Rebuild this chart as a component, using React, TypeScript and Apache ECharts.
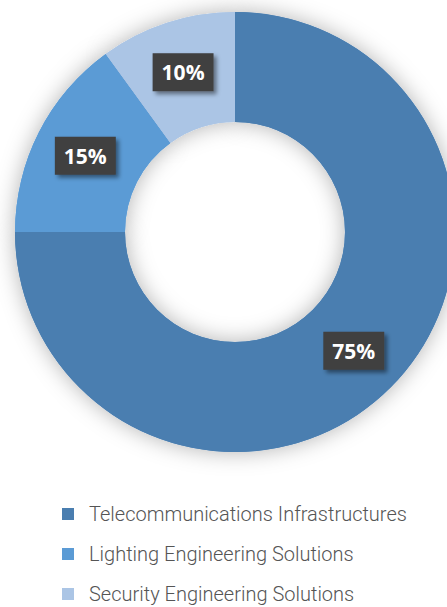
import React, { useEffect, useRef } from "react";
import * as echarts from "echarts";

const categories = [
  "Telecommunications Infrastructures",
  "Lighting Engineering Solutions",
  "Security Engineering Solutions",
];
const shares = [75, 15, 10];
const colors = ["#4A7EB0", "#5B9BD5", "#ABC5E5"];

export default function App() {
  const ref = useRef<HTMLDivElement>(null);
  useEffect(() => {
    if (!ref.current) return;
    const chart = echarts.init(ref.current, null, { renderer: "svg" });
    const data = categories.map((name, i) => ({
      name,
      value: shares[i],
      itemStyle: { color: colors[i] },
    }));
    chart.setOption({
      animation: false,
      backgroundColor: "#ffffff",
      legend: {
        orient: "vertical",
        left: 62,
        top: 504,
        padding: 0,
        itemWidth: 12,
        itemHeight: 12,
        itemGap: 20,
        icon: "rect",
        data: categories,
        textStyle: {
          fontFamily: "Roboto",
          fontWeight: 300,
          fontSize: 20,
          lineHeight: 20,
          color: "#555555",
          padding: [0, 0, 0, 10],
        },
      },
      series: [
        {
          type: "pie",
          silent: true,
          center: [235, 232],
          radius: [110, 220],
          startAngle: 90,
          clockwise: true,
          label: { show: false },
          labelLine: { show: false },
          itemStyle: {
            shadowBlur: 22,
            shadowColor: "rgba(0,0,0,0.3)",
          },
          data,
        },
        {
          type: "pie",
          center: [235, 232],
          radius: [110, 220],
          startAngle: 90,
          clockwise: true,
          labelLine: { show: false },
          label: {
            show: true,
            position: "inside",
            formatter: "{c}%",
            fontFamily: "Open Sans",
            fontWeight: "bold",
            fontSize: 21,
            lineHeight: 21,
            color: "#ffffff",
            backgroundColor: "#3f3f3f",
            padding: [9, 9, 8, 9],
            shadowColor: "rgba(0,0,0,0.45)",
            shadowBlur: 4,
            shadowOffsetX: 3,
            shadowOffsetY: 3,
          },
          data,
        },
      ],
    });
    return () => chart.dispose();
  }, []);
  return (
    <div
      ref={ref}
      style={{ position: "fixed", left: 0, top: 0, width: 447, height: 607 }}
    />
  );
}
